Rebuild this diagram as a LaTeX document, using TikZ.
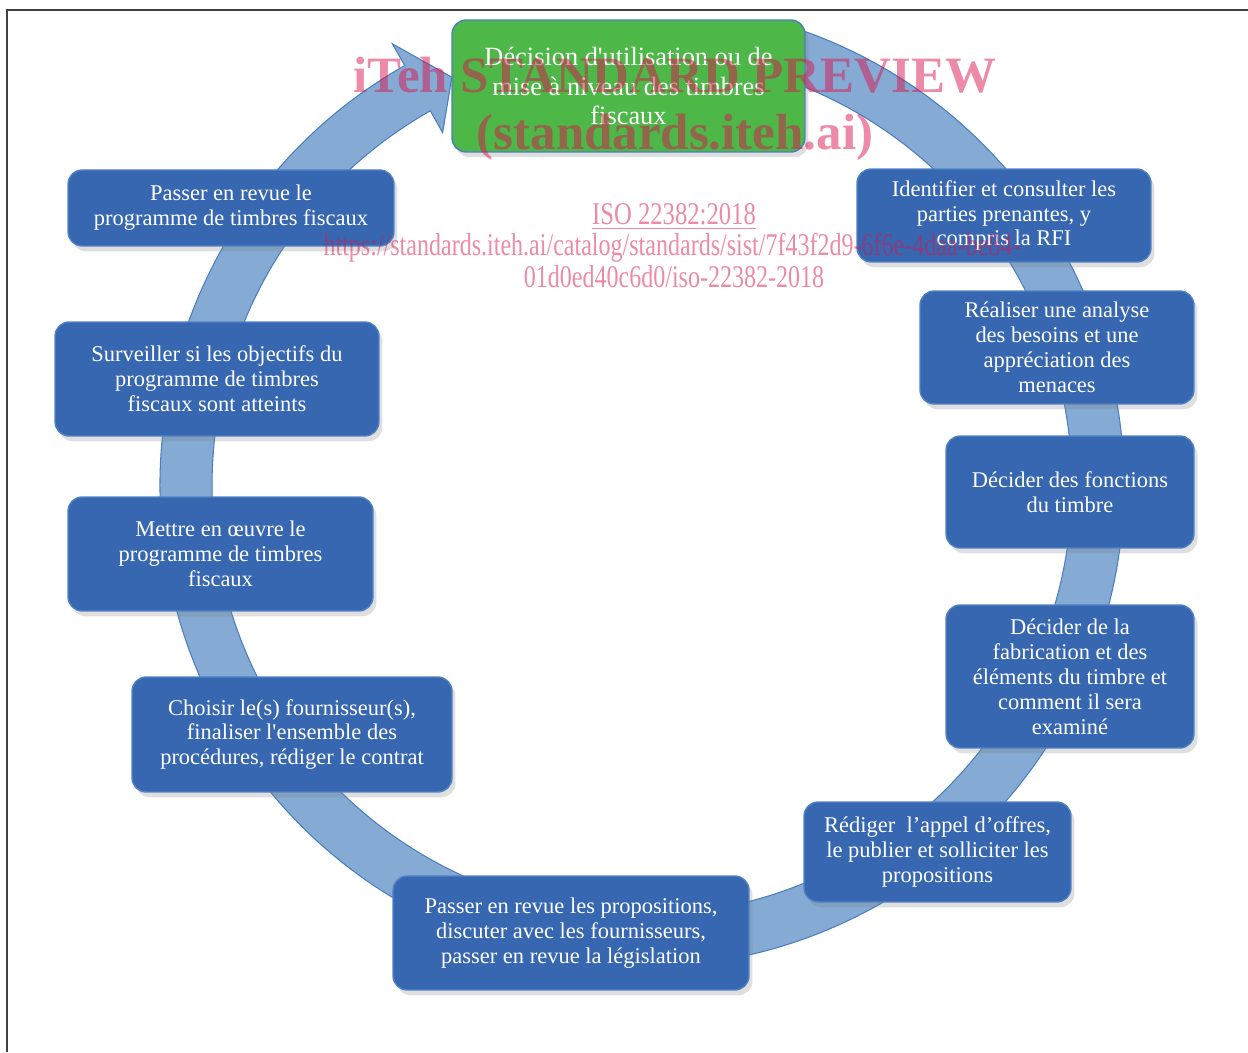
\documentclass[tikz,border=0pt]{standalone}
\usepackage{fontspec}
\setmainfont{Liberation Serif}
\newfontfamily\wmfont{Liberation Serif}
\usepackage{tikz}
\usetikzlibrary{shadows}
\usepackage{xcolor}
\definecolor{ringblue}{HTML}{85AAD3}
\definecolor{ringedge}{HTML}{4A7EC1}
\definecolor{stepblue}{HTML}{3767B1}
\definecolor{stepedge}{HTML}{4F83C4}
\definecolor{stepgreen}{HTML}{4DB748}
\definecolor{wmred}{HTML}{D9154F}

\begin{document}
\begin{tikzpicture}[x=0.02cm,y=0.02cm,
    stagebox/.style={draw=stepedge,line width=0.8pt,fill=stepblue,rounded corners=8pt,text=white,align=center,inner sep=0pt,
      font=\fontsize{12.8}{14.2}\selectfont,drop shadow={shadow xshift=2pt,shadow yshift=-3pt,opacity=0.25}},
    watermark/.style={text=wmred,text opacity=0.5,inner sep=0pt,anchor=base}]
        \useasboundingbox(0,0)rectangle(1248,1052);
        \draw[black!75,line width=1.2pt](7,0)--(7,1042)--(1248,1042);
        \begin{scope}[shift={(642,567)}]
          \filldraw[fill=ringblue,draw=ringedge,line width=0.6pt](72:9.64cm)
            arc[start angle=72,end angle=-240.5,radius=9.64cm]--(-240.5:10.14cm)--(-245:9cm)
            --(-240.5:8.1cm)--(-240.5:8.6cm)arc[start angle=-240.5,end angle=72,radius=8.6cm]--cycle;
        \end{scope}
        \node[stagebox,fill=stepgreen,draw=ringedge,font=\fontsize{15}{17}\selectfont,minimum width=7.06cm,minimum height=2.64cm](decision)at(628.5,966)
          {Décision d\textquotesingle utilisation ou de\\mise à niveau des timbres\\fiscaux};
        \node[stagebox,minimum width=5.88cm,minimum height=1.86cm](consulter)at(1004,836.5)
          {Identifier et consulter les\\parties prenantes, y\\compris la RFI};
        \node[stagebox,minimum width=5.48cm,minimum height=2.26cm](analyse)at(1057,704.5)
          {Réaliser une analyse\\des besoins et une\\appréciation des\\menaces};
        \node[stagebox,minimum width=4.96cm,minimum height=2.24cm](fonctions)at(1070,560)
          {Décider des fonctions\\du timbre};
        \node[stagebox,minimum width=4.96cm,minimum height=2.86cm](fabrication)at(1070,375.5)
          {Décider de la\\fabrication et des\\éléments du timbre et\\comment il sera\\examiné};
        \node[stagebox,minimum width=5.34cm,minimum height=2cm](appel)at(937.5,200)
          {Rédiger\ \ l’appel d’offres,\\le publier et solliciter les\\propositions};
        \node[stagebox,minimum width=7.12cm,minimum height=2.28cm](propositions)at(571,119)
          {Passer en revue les propositions,\\discuter avec les fournisseurs,\\passer en revue la législation};
        \node[stagebox,minimum width=6.4cm,minimum height=2.3cm](fournisseur)at(292,317.5)
          {Choisir le(s) fournisseur(s),\\finaliser l\textquotesingle ensemble des\\procédures, rédiger le contrat};
        \node[stagebox,minimum width=6.1cm,minimum height=2.28cm](oeuvre)at(220.5,498)
          {Mettre en œuvre le\\programme de timbres\\fiscaux};
        \node[stagebox,minimum width=6.48cm,minimum height=2.28cm](suivi)at(217,673)
          {Surveiller si les objectifs du\\programme de timbres\\fiscaux sont atteints};
        \node[stagebox,minimum width=6.52cm,minimum height=1.52cm](revue)at(231,844)
          {Passer en revue le\\programme de timbres fiscaux};
        \node[watermark,font=\wmfont\bfseries\fontsize{29}{29}\selectfont](wmtitle)at(675,959){iTeh STANDARD PREVIEW};
        \node[watermark,font=\wmfont\bfseries\fontsize{29}{29}\selectfont](wmsite)at(675,902){(standards.iteh.ai)};
        \node[watermark,font=\wmfont\fontsize{18}{18}\selectfont](wmiso)at(674,827){\scalebox{0.78}[1]{\underline{ISO 22382:2018}}};
        \node[watermark,font=\wmfont\fontsize{18}{18}\selectfont](wmurl)at(672,796)
          {\scalebox{0.76}[1]{https://standards.iteh.ai/catalog/standards/sist/7f43f2d9-6f6e-4daa-be84-}};
        \node[watermark,font=\wmfont\fontsize{18}{18}\selectfont](wmurlend)at(674,764)
          {\scalebox{0.76}[1]{01d0ed40c6d0/iso-22382-2018}};
      \end{tikzpicture}
\end{document}
